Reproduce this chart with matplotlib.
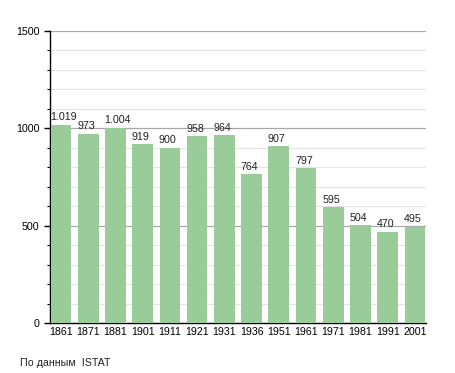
import numpy as np
import matplotlib.pyplot as plt
from matplotlib.ticker import MultipleLocator

# Population by census year
years = ['1861', '1871', '1881', '1901', '1911', '1921', '1931',
         '1936', '1951', '1961', '1971', '1981', '1991', '2001']
population = [1019, 973, 1004, 919, 900, 958, 964,
              764, 907, 797, 595, 504, 470, 495]
labels = ['1.019', '973', '1.004', '919', '900', '958', '964',
          '764', '907', '797', '595', '504', '470', '495']

plt.rcParams['font.family'] = ['Liberation Sans', 'DejaVu Sans']

fig = plt.figure(figsize=(4.55, 3.73), dpi=100)
ax = fig.add_axes([0.11, 0.134, 0.826, 0.783])

x = np.arange(len(years))
w = 0.76
bars = ax.bar(x, population, width=w, color='#9acc9a', zorder=3)

for xi, v, lab in zip(x, population, labels):
    ax.text(xi - w / 2 - 0.02, v + 12, lab, ha='left', va='bottom',
            fontsize=7.7, color='#222222', zorder=4)

ax.set_xlim(-0.5 + (1 - w) / 2 - 0.02, len(years) - 0.5 - (1 - w) / 2 + 0.02)
ax.set_ylim(0, 1500)
ax.set_xticks(x)
ax.set_xticklabels(years, fontsize=7.7)
ax.yaxis.set_major_locator(MultipleLocator(500))
ax.yaxis.set_minor_locator(MultipleLocator(100))
ax.tick_params(axis='y', which='major', labelsize=7.7, length=4, width=1)
ax.tick_params(axis='y', which='minor', length=2, width=0.8)
ax.tick_params(axis='x', length=0, pad=3)

ax.grid(axis='y', which='major', color='#a8a8a8', linewidth=0.9, zorder=1)
ax.grid(axis='y', which='minor', color='#e4e4e4', linewidth=0.8, zorder=1)

for s in ['top', 'right']:
    ax.spines[s].set_visible(False)
ax.spines['left'].set_linewidth(1)
ax.spines['bottom'].set_linewidth(1)

fig.text(0.044, 0.02, 'По данным  ISTAT', fontsize=7.7, color='#222222')

fig.savefig('out.png', dpi=100)
